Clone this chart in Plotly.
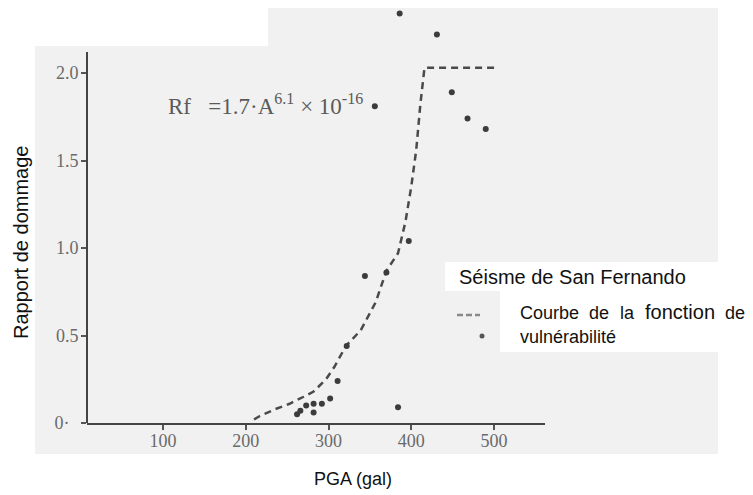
import plotly.graph_objects as go

# ---- data ----
pga_points = [262, 266, 273, 282, 282, 292, 302, 311, 322, 344, 370, 384, 397, 356, 386, 431, 449, 468, 490]
ratio_points = [0.05, 0.07, 0.10, 0.11, 0.06, 0.11, 0.14, 0.24, 0.44, 0.84, 0.86, 0.09, 1.04, 1.81, 2.34, 2.22, 1.89, 1.74, 1.68]

curve_pga = [210, 217, 236, 253, 270, 282, 297, 307, 321, 339, 357, 370, 384, 393, 400, 406, 411, 416, 503]
curve_ratio = [0.02, 0.04, 0.08, 0.11, 0.15, 0.18, 0.25, 0.32, 0.44, 0.53, 0.69, 0.87, 0.97, 1.15, 1.35, 1.56, 1.82, 2.03, 2.03]

x_ticks = [100, 200, 300, 400, 500]
x_tick_labels = ["100", "200", "300", "400", "500"]
y_ticks = [0, 0.5, 1.0, 1.5, 2.0]
y_tick_labels = ["0·&nbsp;&nbsp;", "0.5", "1.0", "1.5", "2.0"]
y_axis_top = 2.12

# ---- layout geometry (pixels) ----
FW, FH = 753, 495
L, W, T, H = 79, 458, 0, 415
X0PX, SX = 72.25, 0.8275
Y0PX, SY = 415, 175.0


def pxx(px):
    return (px - L) / W


def pxy(py):
    return (T + H - py) / H


fig = go.Figure()

fig.add_trace(go.Scatter(
    x=curve_pga, y=curve_ratio, mode="lines",
    line=dict(color="#4a4a4a", width=2.5, dash="7px,5px"),
    hoverinfo="skip", showlegend=False,
))
fig.add_trace(go.Scatter(
    x=pga_points, y=ratio_points, mode="markers",
    marker=dict(color="#3c3c3c", size=6),
    cliponaxis=False, showlegend=False,
))

shapes = [
    # scanned page background
    dict(type="rect", xref="paper", yref="paper", x0=pxx(27), x1=pxx(710), y0=pxy(446), y1=pxy(-6),
         fillcolor="#f1f1f1", line=dict(width=0), layer="below"),
    dict(type="rect", xref="paper", yref="paper", x0=pxx(27), x1=pxx(260), y0=pxy(38), y1=pxy(0),
         fillcolor="#ffffff", line=dict(width=0), layer="below"),
    dict(type="rect", xref="paper", yref="paper", x0=pxx(437), x1=pxx(760), y0=pxy(283), y1=pxy(254),
         fillcolor="#ffffff", line=dict(width=0), layer="below"),
    dict(type="rect", xref="paper", yref="paper", x0=pxx(492), x1=pxx(760), y0=pxy(344), y1=pxy(283),
         fillcolor="#ffffff", line=dict(width=0), layer="below"),
    # y axis line (stops at the top of the scale)
    dict(type="line", xref="paper", yref="y", x0=0, x1=0, y0=0, y1=y_axis_top,
         line=dict(color="#444444", width=2)),
    # legend samples
    dict(type="line", xref="paper", yref="paper", x0=pxx(449), x1=pxx(472), y0=pxy(307), y1=pxy(307),
         line=dict(color="#8a8a8a", width=2.5, dash="6px,3px")),
    dict(type="circle", xref="paper", yref="paper", x0=pxx(471.5), x1=pxx(476.5), y0=pxy(330.5), y1=pxy(325.5),
         fillcolor="#555555", line=dict(width=0)),
]

sans = "Liberation Sans, Arial, sans-serif"
serif = "Liberation Serif, Times New Roman, serif"
black = "#111111"

annotations = [
    dict(text="Rf&nbsp;&nbsp;&nbsp;=1.7·A<sup>6.1</sup>&nbsp;×&nbsp;10<sup>-16</sup>", x=pxx(158), y=pxy(96),
         xanchor="left", yanchor="middle", font=dict(family=serif, size=23, color="#5a5a5a")),
    dict(text="Séisme de San Fernando", x=pxx(449), y=pxy(269), xanchor="left", yanchor="middle",
         font=dict(family=sans, size=20, color=black)),
    dict(text="Courbe", x=pxx(510), y=pxy(305), xanchor="left", yanchor="middle",
         font=dict(family=sans, size=18, color=black)),
    dict(text="de", x=pxx(579), y=pxy(305), xanchor="left", yanchor="middle",
         font=dict(family=sans, size=18, color=black)),
    dict(text="la", x=pxx(610), y=pxy(305), xanchor="left", yanchor="middle",
         font=dict(family=sans, size=18, color=black)),
    dict(text="fonction", x=pxx(635), y=pxy(304), xanchor="left", yanchor="middle",
         font=dict(family=sans, size=20, color=black)),
    dict(text="de", x=pxx(715), y=pxy(305), xanchor="left", yanchor="middle",
         font=dict(family=sans, size=18, color=black)),
    dict(text="vulnérabilité", x=pxx(510), y=pxy(329), xanchor="left", yanchor="middle",
         font=dict(family=sans, size=18, color=black)),
    dict(text="Rapport de dommage", x=pxx(13), y=pxy(235), xanchor="center", yanchor="middle",
         textangle=-90, font=dict(family=sans, size=20, color=black)),
    dict(text="PGA (gal)", x=pxx(345), y=pxy(471), xanchor="center", yanchor="middle",
         font=dict(family=sans, size=18, color=black)),
]
for a in annotations:
    a.update(xref="paper", yref="paper", showarrow=False)

fig.update_layout(
    width=FW, height=FH,
    margin=dict(l=L, r=FW - L - W, t=T, b=FH - T - H, pad=0),
    paper_bgcolor="#ffffff", plot_bgcolor="rgba(0,0,0,0)",
    shapes=shapes, annotations=annotations, showlegend=False,
    xaxis=dict(range=[(L - X0PX) / SX, (L + W - X0PX) / SX], showgrid=False, zeroline=False,
               showline=True, linecolor="#444444", linewidth=2,
               tickmode="array", tickvals=x_ticks, ticktext=x_tick_labels,
               ticks="outside", ticklen=5, tickwidth=1.5, tickcolor="#555555",
               ticklabelstandoff=-5,
               tickfont=dict(family=serif, size=18, color="#6a6a6a")),
    yaxis=dict(range=[(Y0PX - (T + H)) / SY, (Y0PX - T) / SY], showgrid=False, zeroline=False,
               showline=False,
               tickmode="array", tickvals=y_ticks, ticktext=y_tick_labels,
               ticks="outside", ticklen=5, tickwidth=1.5, tickcolor="#555555",
               ticklabelstandoff=-1,
               tickfont=dict(family=serif, size=18, color="#6a6a6a")),
)

fig.write_html("out.html")
